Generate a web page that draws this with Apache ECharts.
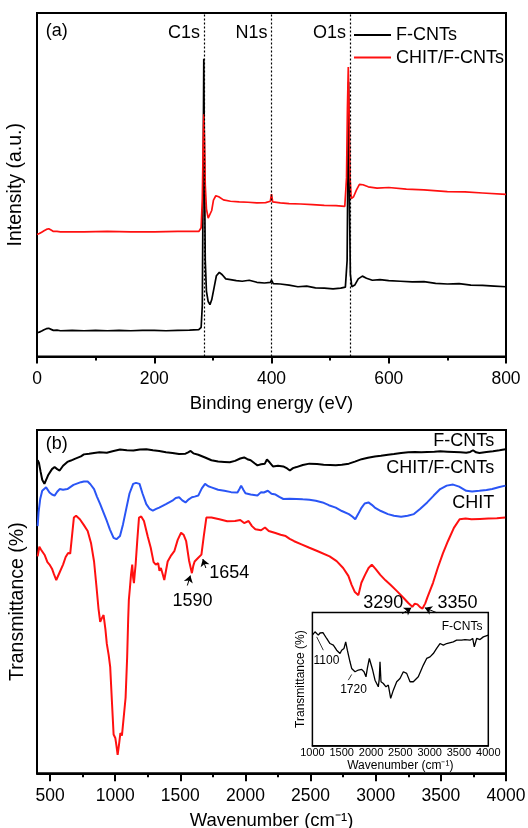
<!DOCTYPE html>
<html>
<head>
<meta charset="utf-8">
<script src="https://cdn.jsdelivr.net/npm/echarts@6/dist/echarts.min.js"></script>
<style>
html, body { margin: 0; padding: 0; background: #fff; }
#chart { width: 528px; height: 828px; }
</style>
</head>
<body>
<div id="chart"></div>
<script>
// (a) XPS survey: [binding energy (eV), intensity (a.u.)]
var xpsFcnts = [[0,6.9],[4,7.1],[8,7.4],[12,7.8],[16,8.1],[20,8.2],[24,7.9],[28,7.6],[34,7.7],[40,7.5],[60,7.6],[80,7.5],[100,7.6],[120,7.5],[140,7.6],[160,7.5],[180,7.6],[200,7.6],[220,7.5],[240,7.6],[260,7.7],[276,7.8],[280,8.5],[282,15],[283.5,55],[284.5,86.7],[285.5,60],[287,28],[289,19],[292,16],[295,15.1],[298,16.5],[302,20],[306,23.5],[311,24.5],[316,23.8],[322,22.6],[330,22.4],[340,22.1],[350,21.9],[362,22.2],[375,21.6],[388,21.4],[398,21.6],[400,22.2],[403,21.2],[415,21.1],[430,20.8],[445,20.3],[460,20.5],[475,20.0],[490,19.9],[505,19.7],[518,19.9],[526,20.2],[529,28],[530.5,60],[531.5,80],[533,45],[534.5,24],[537,20.3],[542,20.8],[548,22.6],[555,23.4],[562,22.8],[572,22.2],[585,22.4],[600,22.1],[620,21.9],[640,21.7],[660,21.8],[680,21.3],[700,21.1],[720,21.2],[740,20.8],[760,20.7],[780,20.5],[800,20.3]];
var xpsChitFcnts = [[0,35.5],[4,35.8],[8,36.2],[12,36.6],[16,37],[20,37.2],[24,36.8],[28,36.4],[34,36.4],[40,36.3],[80,36.3],[120,36.4],[160,36.3],[200,36.3],[240,36.4],[276,36.4],[280,37.5],[282,46],[283.5,62],[284.5,70.5],[285.5,64],[287,50],[289,43],[292,40.3],[295,40],[298,42.5],[301,45.5],[305,46.8],[310,46.5],[318,45.6],[330,45.2],[345,45],[360,44.9],[375,44.7],[390,44.8],[398,45.2],[400,47.3],[402,45],[415,44.7],[430,44.5],[450,44.4],[470,44.2],[490,44],[510,43.9],[525,43.7],[528,52],[529.5,72],[531,84.3],[532.5,70],[534,52],[536,46],[540,46.5],[545,48.5],[550,50.1],[556,50],[565,49.4],[580,49],[600,49.2],[630,48.7],[660,48.5],[700,48],[730,47.9],[760,47.6],[800,47.2]];
var xpsPeakNames = ['C1s', 'N1s', 'O1s'];
var xpsPeakEnergy = [285, 400, 534];

// (b) FTIR: [wavenumber (cm-1), transmittance (%)]
var ftirFcnts = [[405,91.2],[415,90.4],[428,87.8],[440,85.5],[457,84.3],[470,85.5],[485,86.8],[496,87.2],[515,88.6],[535,89.2],[555,88.6],[574,88.2],[600,89.6],[633,90.7],[660,91.1],[690,91.6],[737,92.3],[760,92.9],[800,93.1],[838,93.3],[880,93.5],[936,93.4],[980,93.8],[1037,94.3],[1090,94.1],[1140,94],[1190,94.3],[1239,94.4],[1290,94.1],[1338,93.9],[1390,93.5],[1440,93.3],[1490,93],[1540,93.1],[1560,93.5],[1579,93.9],[1600,93.2],[1638,92.8],[1690,92],[1739,91.2],[1790,90.8],[1838,90.7],[1880,90.6],[1920,91],[1960,91.7],[1990,92],[2015,91.5],[2040,91.2],[2070,90.3],[2092,89.7],[2120,90],[2149,90.2],[2165,91.4],[2172,91.8],[2185,90.6],[2211,89.4],[2250,89.6],[2290,89.4],[2320,88.8],[2341,88.2],[2365,88.9],[2392,89.2],[2440,89.8],[2491,90.2],[2550,90.1],[2600,89.9],[2650,89.8],[2693,89.7],[2740,89.9],[2794,90.2],[2840,90.8],[2892,91.5],[2940,91.9],[2993,92.3],[3040,92.5],[3094,92.8],[3140,93],[3195,93.3],[3250,93.5],[3300,93.6],[3350,93.5],[3395,93.6],[3450,93.7],[3495,93.8],[3550,93.7],[3600,93.6],[3650,93.5],[3695,93.4],[3725,93.6],[3747,94.1],[3770,93.5],[3796,93.3],[3850,93.6],[3900,93.8],[3950,94.1],[3996,94.4]];
var ftirChitFcnts = [[405,72],[412,76],[425,80],[440,82.3],[470,83.3],[496,81.8],[515,81.2],[535,80.9],[555,82],[574,82.8],[600,82.6],[633,82.8],[680,84],[737,84.8],[760,85],[789,85],[810,84.2],[838,82.8],[860,80.6],[885,78.4],[910,76],[936,73.5],[960,71],[988,68.6],[1010,68.2],[1037,69.1],[1060,72.5],[1087,77.4],[1110,81.5],[1138,84.3],[1160,84.6],[1187,84.3],[1210,81.5],[1239,78.4],[1265,77],[1289,76.5],[1315,77],[1338,77.4],[1390,78.4],[1439,79.4],[1465,80.2],[1491,80.4],[1515,79.5],[1540,78.9],[1565,79.8],[1589,80.4],[1610,80.6],[1638,80.9],[1665,83],[1690,84.3],[1715,83.6],[1739,83.3],[1790,82.6],[1838,82.3],[1890,81.9],[1939,81.8],[1955,82.9],[1967,83.8],[1985,82.5],[2000,81.6],[2040,81.2],[2092,80.9],[2120,81.9],[2141,81.8],[2172,82.3],[2200,81.4],[2231,81.2],[2260,80.5],[2291,79.9],[2340,80],[2392,79.9],[2440,79.8],[2491,79.7],[2540,79.4],[2592,78.9],[2640,78.1],[2693,77.4],[2740,76.4],[2794,75.5],[2820,74.8],[2843,74],[2865,75.5],[2892,77.4],[2915,78.6],[2944,78.9],[2970,78.2],[2993,77.4],[3040,76.4],[3094,75.5],[3140,75],[3195,74.7],[3245,75],[3293,75.5],[3340,77],[3395,78.9],[3445,80.9],[3495,82.8],[3545,83.8],[3594,84.1],[3640,83.5],[3695,82.3],[3740,82.1],[3796,82.3],[3850,82.5],[3894,82.8],[3950,83.4],[3996,83.8]];
var ftirChit = [[405,63.2],[418,66],[430,65.2],[444,65.7],[460,63.5],[480,61.5],[496,60.8],[515,59.6],[530,58],[548,56.3],[570,58.2],[600,60.8],[620,63],[639,64.2],[655,64],[668,63.7],[683,74.5],[700,75],[729,74],[760,72.3],[789,70.6],[815,67],[838,61.7],[855,55],[872,48],[885,44.1],[898,45.2],[911,46.1],[925,42],[936,37.7],[950,34.5],[962,30.9],[975,21],[988,11.3],[1001,10.3],[1010,8],[1019,5.4],[1030,8.5],[1040,11.7],[1052,11],[1066,10.8],[1080,22],[1092,33.8],[1100,45],[1105,50.5],[1113,53.9],[1122,58],[1131,60.8],[1138,57],[1144,55.4],[1150,58],[1157,60.8],[1170,68],[1183,74.5],[1200,74.8],[1221,73.5],[1250,69],[1273,65.7],[1295,61.5],[1312,60.8],[1330,61.2],[1340,59],[1351,59.8],[1365,58],[1377,56.3],[1390,59],[1403,61.7],[1430,63.5],[1454,64.7],[1480,68],[1506,70.1],[1525,69.5],[1545,67.6],[1567,62],[1589,58.3],[1600,60.5],[1610,61.7],[1636,62.7],[1662,63.7],[1680,69],[1700,74.5],[1739,74.5],[1800,74],[1860,73.4],[1920,73.5],[1960,73.8],[1990,72.9],[2024,73.5],[2050,72],[2076,71.1],[2120,70.8],[2150,71.6],[2179,70.6],[2230,70],[2270,69.5],[2309,69.1],[2340,68.3],[2374,67.6],[2430,66.7],[2491,65.7],[2560,64.6],[2646,63.2],[2700,61.8],[2750,59.8],[2790,57.5],[2815,54.9],[2840,52.8],[2867,51.9],[2890,55.5],[2918,57.8],[2945,59.8],[2970,60.8],[3000,59.5],[3035,57.8],[3075,56.2],[3113,54.9],[3165,53],[3216,51],[3250,49.6],[3281,48.5],[3300,49.4],[3320,49.2],[3340,48.4],[3359,48],[3380,49.5],[3398,51.4],[3440,55.5],[3476,59.8],[3515,64],[3554,67.6],[3600,71.5],[3644,74],[3690,74.2],[3735,74],[3800,74.1],[3864,74.2],[3930,74.3],[3994,74.5]];
var ftirNames = ['F-CNTs', 'CHIT/F-CNTs', 'CHIT'];
var ftirBands = ['1590', '1654', '3290', '3350'];
var ftirMajorTicks = [500, 1000, 1500, 2000, 2500, 3000, 3500, 4000];
var ftirMinorTicks = [750, 1250, 1750, 2250, 2750, 3250, 3750];

// inset: F-CNTs alone
var insetFcnts = [[999,83],[1044,85.5],[1070,84.5],[1101,83],[1130,84.6],[1158,85.5],[1180,84.9],[1203,84.3],[1243,80.5],[1300,76.7],[1357,75.5],[1414,71.7],[1440,70.4],[1471,69.2],[1499,71.7],[1539,73],[1568,78],[1596,71.7],[1641,63],[1670,58],[1700,56.5],[1727,55.5],[1783,56.8],[1840,57.3],[1880,55.5],[1914,51.7],[1937,58],[1971,65.5],[1994,64.2],[2028,56.8],[2068,49.2],[2096,49.2],[2124,44.2],[2140,50],[2153,63],[2170,48],[2210,46.7],[2255,44.2],[2295,45.5],[2335,35.5],[2380,41.7],[2438,48],[2494,50.5],[2551,55.5],[2608,54.3],[2665,48],[2721,48],[2806,51.7],[2892,60.5],[2949,65.5],[3006,66.7],[3062,69.2],[3119,73],[3176,76.7],[3233,75.5],[3290,76.7],[3403,78],[3460,79.2],[3545,79.2],[3603,79.7],[3688,79.2],[3734,80.5],[3761,74.2],[3802,80.5],[3859,79.7],[3915,81.7],[4000,83]];
var insetBands = ['1100', '1720'];

var FONT = "'Liberation Sans', Arial, Helvetica, sans-serif";
var RED = '#ff1010', BLUE = '#2a55f5', BLACK = '#000';

var chart = echarts.init(document.getElementById('chart'), null, { renderer: 'canvas' });

function plainNumber(v) { return String(v); }

/**
 * text labels anchored in data space (invisible scatter)
 */
function textSeries(xi, yi, items, size, align) {
	return {
		type: 'scatter', xAxisIndex: xi, yAxisIndex: yi, silent: true,
		symbolSize: 0, itemStyle: { color: BLACK }, z: 20,
		data: items.map(function(it) { return { value: [it[1], it[2]], name: it[0] }; }),
		label: {
			show: true, position: [0, 0], align: align || 'center', verticalAlign: 'middle',
			formatter: '{b}', fontSize: size, fontFamily: FONT, color: BLACK,
			textBorderWidth: 0, opacity: 1
		}
	};
}

function plainAxis(extra) {
	var a = {
		type: 'value', axisLine: { show: true, onZero: false, lineStyle: { color: BLACK, width: 2 } },
		axisTick: { show: false }, axisLabel: { show: false }, splitLine: { show: false },
		nameLocation: 'middle', nameTextStyle: { fontFamily: FONT, color: BLACK, fontSize: 18.5 }
	};
	for (var k in extra) a[k] = extra[k];
	return a;
}

var option = {
	animation: false,
	backgroundColor: '#fff',
	textStyle: { fontFamily: FONT },
	grid: [
		{ left: 37, right: 22, top: 13, height: 343.5, show: true, borderColor: BLACK, borderWidth: 2, backgroundColor: 'transparent', outerBoundsMode: 'none', containLabel: false },
		{ left: 37, right: 22, top: 430, height: 343.3, show: true, borderColor: BLACK, borderWidth: 2, backgroundColor: 'transparent', outerBoundsMode: 'none', containLabel: false },
		{ left: 312.4, width: 175.9, top: 612.5, height: 133.2, show: true, borderColor: BLACK, borderWidth: 1.5, backgroundColor: '#fff', z: 5, outerBoundsMode: 'none', containLabel: false }
	],
	legend: {
		data: ['F-CNTs', 'CHIT/F-CNTs'], orient: 'vertical', left: 354, top: 26,
		icon: 'rect', itemWidth: 37, itemHeight: 2, itemGap: 4.6, padding: 0,
		textStyle: { fontSize: 18, fontFamily: FONT, color: BLACK, lineHeight: 18 }
	},
	xAxis: [
		plainAxis({
			gridIndex: 0, min: 0, max: 800, interval: 200, name: 'Binding energy (eV)', nameGap: 38,
			axisTick: { show: true, length: 7, lineStyle: { color: BLACK, width: 2 } },
			minorTick: { show: true, splitNumber: 2, length: 4, lineStyle: { color: BLACK, width: 2 } },
			axisLabel: { show: true, fontSize: 17.5, margin: 14, color: BLACK, fontFamily: FONT, formatter: plainNumber }
		}),
		plainAxis({
			gridIndex: 1, min: 400, max: 4000, name: 'Wavenumber (cm\u207B\u00B9)', nameGap: 38,
			axisTick: { show: true, length: 8, customValues: ftirMajorTicks, lineStyle: { color: BLACK, width: 2 } },
			axisLabel: { show: true, fontSize: 17.5, margin: 14, color: BLACK, fontFamily: FONT, customValues: ftirMajorTicks, formatter: plainNumber }
		}),
		plainAxis({
			gridIndex: 1, min: 400, max: 4000, position: 'bottom', offset: 0,
			axisLine: { show: false },
			axisTick: { show: true, length: 4, customValues: ftirMinorTicks, lineStyle: { color: BLACK, width: 2 } }
		}),
		plainAxis({
			gridIndex: 2, min: 1000, max: 4000, interval: 500, name: 'Wavenumber (cm\u207B\u00B9)', nameGap: 11,
			axisLine: { show: true, onZero: false, lineStyle: { color: BLACK, width: 1.5 } },
			axisLabel: { show: true, fontSize: 11, margin: 2, color: BLACK, fontFamily: FONT, interval: 0, formatter: plainNumber },
			nameTextStyle: { fontFamily: FONT, color: BLACK, fontSize: 12 }
		})
	],
	yAxis: [
		plainAxis({ gridIndex: 0, min: 0, max: 100, name: 'Intensity (a.u.)', nameGap: 11.5, nameTextStyle: { fontFamily: FONT, color: BLACK, fontSize: 19.5 } }),
		plainAxis({ gridIndex: 1, min: 0, max: 100, name: 'Transmittance (%)', nameGap: 9.5, nameTextStyle: { fontFamily: FONT, color: BLACK, fontSize: 19.5 } }),
		plainAxis({
			gridIndex: 2, min: 0, max: 100, name: 'Transmittance (%)', nameGap: 6,
			axisLine: { show: true, onZero: false, lineStyle: { color: BLACK, width: 1.5 } },
			nameTextStyle: { fontFamily: FONT, color: BLACK, fontSize: 12 }
		})
	],
	series: []
};

// panel (a)
option.series.push({
	name: 'F-CNTs', type: 'line', xAxisIndex: 0, yAxisIndex: 0, symbol: 'none',
	data: xpsFcnts, lineStyle: { color: BLACK, width: 1.7 }, itemStyle: { color: BLACK }, z: 3,
	markLine: {
		silent: true, symbol: 'none', label: { show: false },
		lineStyle: { type: [2, 2], color: BLACK, width: 1.2 },
		data: xpsPeakEnergy.map(function(e) { return { xAxis: e }; })
	}
});
option.series.push({
	name: 'CHIT/F-CNTs', type: 'line', xAxisIndex: 0, yAxisIndex: 0, symbol: 'none',
	data: xpsChitFcnts, lineStyle: { color: RED, width: 1.7 }, itemStyle: { color: RED }, z: 4
});
var peakSeries = textSeries(0, 0, xpsPeakNames.map(function(n, i) { return [n, xpsPeakEnergy[i], 94.3]; }), 18, 'right');
peakSeries.label.offset = [-4, 0];
option.series.push(peakSeries);
option.series.push(textSeries(0, 0, [['(a)', 15, 94.8]], 18, 'left'));

// panel (b)
option.series.push({
	name: 'FTIR F-CNTs', type: 'line', xAxisIndex: 1, yAxisIndex: 1, symbol: 'none',
	data: ftirFcnts, lineStyle: { color: BLACK, width: 2 }, z: 3
});
option.series.push({
	name: 'FTIR CHIT/F-CNTs', type: 'line', xAxisIndex: 1, yAxisIndex: 1, symbol: 'none',
	data: ftirChitFcnts, lineStyle: { color: BLUE, width: 2 }, z: 3
});
option.series.push({
	name: 'FTIR CHIT', type: 'line', xAxisIndex: 1, yAxisIndex: 1, symbol: 'none',
	data: ftirChit, lineStyle: { color: RED, width: 2 }, z: 4,
	markLine: {
		silent: true, symbol: ['none', 'arrow'], symbolSize: 7, label: { show: false },
		lineStyle: { type: 'solid', color: BLACK, width: 1 },
		data: [
			[{ coord: [1554, 54.7] }, { coord: [1577, 57.6] }],
			[{ coord: [1696, 59.8] }, { coord: [1673, 62.4] }],
			[{ coord: [3204, 46.5] }, { coord: [3273, 48.2] }],
			[{ coord: [3467, 46.8] }, { coord: [3377, 48.2] }]
		]
	}
});
option.series.push(textSeries(1, 1, [
	[ftirBands[0], 1594, 50.3], [ftirBands[1], 1875, 58.3],
	[ftirBands[2], 3057, 49.5], [ftirBands[3], 3628, 49.5]
], 18, 'center'));
option.series.push(textSeries(1, 1, [
	[ftirNames[0], 3910, 96.8], [ftirNames[1], 3910, 89], [ftirNames[2], 3910, 78.7]
], 18, 'right'));
option.series.push(textSeries(1, 1, [['(b)', 467, 95.9]], 18, 'left'));

// inset
option.series.push({
	name: 'inset F-CNTs', type: 'line', xAxisIndex: 3, yAxisIndex: 2, symbol: 'none',
	data: insetFcnts, lineStyle: { color: BLACK, width: 1.3 }, z: 10,
	markLine: {
		silent: true, symbol: 'none', label: { show: false },
		lineStyle: { type: 'solid', color: BLACK, width: 0.8 },
		data: [
			[{ coord: [1073, 81.7] }, { coord: [1186, 71.7] }],
			[{ coord: [1612, 49.2] }, { coord: [1670, 53.5] }]
		]
	}
});
option.series.push(textSeries(3, 2, [
	[insetBands[0], 1240, 63.5], [insetBands[1], 1701, 41.8]
], 12, 'center'));
option.series.push(textSeries(3, 2, [['F-CNTs', 3900, 89.1]], 12, 'right'));

chart.setOption(option);
</script>
</body>
</html>
